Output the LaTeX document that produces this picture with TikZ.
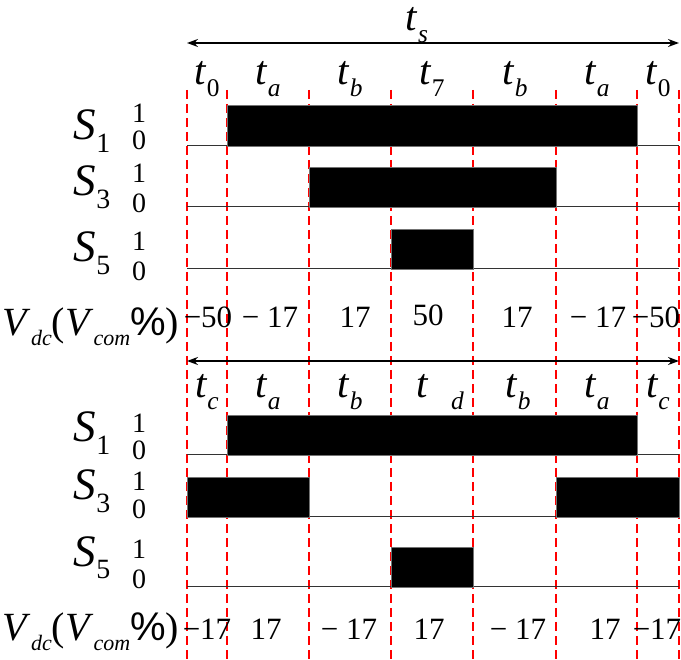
\documentclass[tikz,border=0pt]{standalone}
\usepackage{fontspec}
\setmainfont{Liberation Serif}
\setsansfont{Liberation Sans}
\usetikzlibrary{arrows.meta}

\newcommand{\sbs}[2]{#1\raisebox{-0.28em}{\scalebox{0.62}{#2}}}
\newcommand{\vsbs}[2]{#1\raisebox{-0.25em}{\scalebox{0.55}{#2}}}

\begin{document}
\begin{tikzpicture}[
    x=1pt, y=-1pt,
    sig/.style={font=\fontsize{45}{45}\selectfont, anchor=base},
    lvl/.style={font=\fontsize{28}{28}\selectfont, anchor=base},
    tlab/.style={font=\fontsize{41}{41}\selectfont, anchor=base},
    val/.style={font=\fontsize{31}{31}\selectfont, anchor=base},
    vlab/.style={font=\fontsize{40}{40}\selectfont, anchor=base},
    guide/.style={red, line width=1.1pt, dash pattern=on 9pt off 5pt},
    pulse/.style={fill=black, draw=black!55, line width=0.9pt},
    rail/.style={draw=black!80, line width=1pt},
    arrow/.style={{Stealth[length=11pt,width=8pt]}-{Stealth[length=11pt,width=8pt]}, line width=1.6pt}
  ]
    \useasboundingbox (0,0) rectangle (681,660);

    % red guide lines
    \foreach \x in {187,227,309,391,473,556,637,679}
      \draw[guide] (\x,90) -- (\x,660);

    % ---- upper pattern ----
    \coordinate (tsL) at (187,43);
    \coordinate (tsR) at (679,43);
    \draw[arrow] (tsL) -- (tsR);
    \node[tlab] (ts) at (417,31) {\sbs{\textit{t}}{\textit{s}}};

    \node[tlab] (t0a) at (207,85) {\sbs{\textit{t}}{0}};
    \node[tlab] (taa) at (268,85) {\sbs{\textit{t}}{\textit{a}}};
    \node[tlab] (tba) at (350,85) {\sbs{\textit{t}}{\textit{b}}};
    \node[tlab] (t7)  at (432,85) {\sbs{\textit{t}}{7}};
    \node[tlab] (tbb) at (515,85) {\sbs{\textit{t}}{\textit{b}}};
    \node[tlab] (tab) at (597,85) {\sbs{\textit{t}}{\textit{a}}};
    \node[tlab] (t0b) at (658,85) {\sbs{\textit{t}}{0}};

    \node[sig] (s1u) at (92,140) {\sbs{\textit{S}}{1}};
    \node[lvl] (h1u) at (139,123) {1};
    \node[lvl] (l1u) at (139,150) {0};
    \node[sig] (s3u) at (92,196) {\sbs{\textit{S}}{3}};
    \node[lvl] (h3u) at (139,183) {1};
    \node[lvl] (l3u) at (139,213) {0};
    \node[sig] (s5u) at (92,262) {\sbs{\textit{S}}{5}};
    \node[lvl] (h5u) at (139,251) {1};
    \node[lvl] (l5u) at (139,281) {0};

    \draw[rail] (187,146) -- (679,146);
    \draw[pulse] (227,105) rectangle (637,146);
    \draw[rail] (187,207) -- (679,207);
    \draw[pulse] (309,167) rectangle (556,207);
    \draw[rail] (187,269) -- (679,269);
    \draw[pulse] (391,229) rectangle (473,269);

    \node[vlab] (vdcu) at (91,336) {\vsbs{\textit{V}}{\textit{dc}}(\vsbs{\textit{V}}{\textit{com}}{\sffamily\%})};
    \node[val] (vu1) at (208,328) {−50};
    \node[val] (vu2) at (270,328) {− 17};
    \node[val] (vu3) at (355,328) {17};
    \node[val] (vu4) at (428,326) {50};
    \node[val] (vu5) at (517,328) {17};
    \node[val] (vu6) at (598,328) {− 17};
    \node[val] (vu7) at (656,328) {−50};

    % ---- lower pattern ----
    \coordinate (tdL) at (187,361);
    \coordinate (tdR) at (679,361);
    \draw[arrow] (tdL) -- (tdR);

    \node[tlab] (tca) at (207,398) {\sbs{\textit{t}}{\textit{c}}};
    \node[tlab] (tac) at (268,398) {\sbs{\textit{t}}{\textit{a}}};
    \node[tlab] (tbc) at (350,398) {\sbs{\textit{t}}{\textit{b}}};
    \node[tlab] (td)  at (440,398) {\sbs{\textit{t}}{\hspace{0.9em}\textit{d}}};
    \node[tlab] (tbd) at (518,398) {\sbs{\textit{t}}{\textit{b}}};
    \node[tlab] (tad) at (597,398) {\sbs{\textit{t}}{\textit{a}}};
    \node[tlab] (tcb) at (658,398) {\sbs{\textit{t}}{\textit{c}}};

    \node[sig] (s1d) at (92,442) {\sbs{\textit{S}}{1}};
    \node[lvl] (h1d) at (139,433) {1};
    \node[lvl] (l1d) at (139,460) {0};
    \node[sig] (s3d) at (92,500) {\sbs{\textit{S}}{3}};
    \node[lvl] (h3d) at (139,491) {1};
    \node[lvl] (l3d) at (139,519) {0};
    \node[sig] (s5d) at (92,566) {\sbs{\textit{S}}{5}};
    \node[lvl] (h5d) at (139,559) {1};
    \node[lvl] (l5d) at (139,589) {0};

    \draw[rail] (187,455) -- (679,455);
    \draw[pulse] (227,415) rectangle (637,455);
    \draw[rail] (187,517) -- (679,517);
    \draw[pulse] (187,477) rectangle (309,517);
    \draw[pulse] (556,477) rectangle (679,517);
    \draw[rail] (187,587) -- (679,587);
    \draw[pulse] (391,547) rectangle (473,587);

    \node[vlab] (vdcd) at (91,640) {\vsbs{\textit{V}}{\textit{dc}}(\vsbs{\textit{V}}{\textit{com}}{\sffamily\%})};
    \node[val] (vd1) at (207,639) {−17};
    \node[val] (vd2) at (266,639) {17};
    \node[val] (vd3) at (349,639) {− 17};
    \node[val] (vd4) at (429,639) {17};
    \node[val] (vd5) at (518,639) {− 17};
    \node[val] (vd6) at (605,639) {17};
    \node[val] (vd7) at (657,639) {−17};
  \end{tikzpicture}
\end{document}
